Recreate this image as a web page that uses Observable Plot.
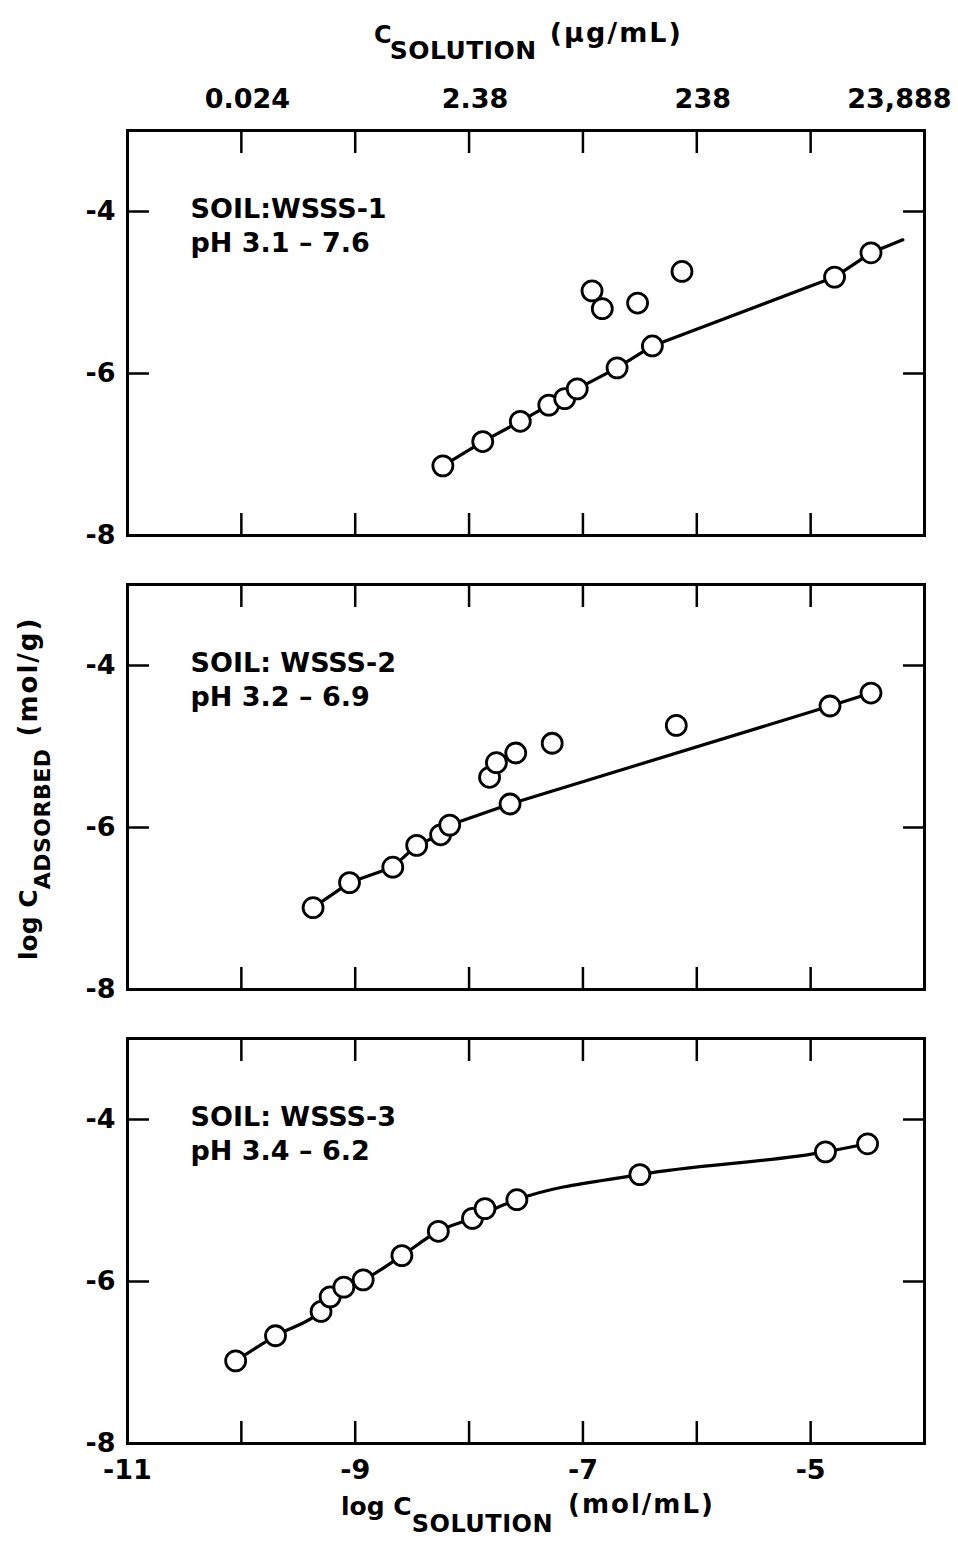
<!DOCTYPE html>
<html>
<head>
<meta charset="utf-8">
<script src="https://cdn.jsdelivr.net/npm/d3@7"></script>
<script src="https://cdn.jsdelivr.net/npm/@observablehq/plot@0.6"></script>
<style>
  html, body { margin: 0; padding: 0; background: #fff; }
  #chart svg { display: block; font-weight: bold; }
</style>
</head>
<body>
<div id="chart"></div>
<script>
// ---------- data ----------
const panels = ["WSSS-1", "WSSS-2", "WSSS-3"];
const panelLabels = [
  "SOIL:WSSS-1\npH 3.1 – 7.6",
  "SOIL: WSSS-2\npH 3.2 – 6.9",
  "SOIL: WSSS-3\npH 3.4 – 6.2"
];
const xTicks = [-10, -9, -8, -7, -6, -5];
const xTickLabels = [-11, -9, -7, -5];
const yTicks = [-6, -4];
const yTickLabels = [-8, -6, -4];
const topTickValues = [-10, -8, -6, -4];
const topTickLabels = ["0.024", "2.38", "238", "23,888"];

// Soil WSSS-1
const soil1X = [-8.23, -7.88, -7.55, -7.30, -7.16, -7.05, -6.92, -6.83, -6.70, -6.52, -6.39, -6.13, -4.79, -4.47];
const soil1Y = [-7.14, -6.84, -6.59, -6.39, -6.31, -6.19, -4.98, -5.20, -5.93, -5.13, -5.66, -4.74, -4.81, -4.51];
const fit1X = [-8.23, -7.88, -7.55, -7.30, -7.16, -7.05, -6.70, -6.39, -4.79, -4.47, -4.19];
const fit1Y = [-7.14, -6.84, -6.59, -6.39, -6.31, -6.19, -5.93, -5.66, -4.81, -4.51, -4.35];

// Soil WSSS-2
const soil2X = [-9.37, -9.05, -8.67, -8.46, -8.25, -8.17, -7.82, -7.76, -7.59, -7.64, -7.27, -6.18, -4.83, -4.47];
const soil2Y = [-6.99, -6.68, -6.49, -6.22, -6.09, -5.97, -5.38, -5.20, -5.08, -5.71, -4.96, -4.74, -4.50, -4.34];
const fit2X = [-9.37, -9.05, -8.67, -8.46, -8.25, -8.17, -7.64, -4.83, -4.47];
const fit2Y = [-6.99, -6.68, -6.49, -6.22, -6.09, -5.97, -5.71, -4.50, -4.34];

// Soil WSSS-3
const soil3X = [-10.05, -9.70, -9.30, -9.22, -9.10, -8.93, -8.59, -8.27, -7.97, -7.86, -7.58, -6.50, -4.87, -4.50];
const soil3Y = [-6.98, -6.67, -6.37, -6.19, -6.07, -5.98, -5.68, -5.38, -5.22, -5.10, -4.99, -4.68, -4.40, -4.30];
const fit3X = [-10.05, -9.70, -9.30, -9.10, -8.93, -8.59, -8.27, -7.97, -7.58, -6.50, -4.87, -4.50];
const fit3Y = [-6.98, -6.67, -6.37, -6.07, -5.98, -5.68, -5.38, -5.22, -4.99, -4.68, -4.40, -4.30];

// ---------- tables ----------
const ptsX = [soil1X, soil2X, soil3X], ptsY = [soil1Y, soil2Y, soil3Y];
const points = panels.flatMap((p, i) => ptsX[i].map((x, j) => ({panel: p, x, y: ptsY[i][j]})));
const straightFits = [[fit1X, fit1Y, panels[0]], [fit2X, fit2Y, panels[1]]]
  .flatMap(([xs, ys, p]) => xs.map((x, j) => ({panel: p, x, y: ys[j]})));
const curvedFit = fit3X.map((x, j) => ({panel: panels[2], x, y: fit3Y[j]}));
const labelRows = panels.map((p, i) => ({panel: p, text: panelLabels[i]}));
const topRows = topTickValues.map((v, i) => ({panel: panels[0], x: v, text: topTickLabels[i]}));

const FONT = "DejaVu Sans";
const fmt = d => (d < 0 ? "-" : "") + Math.abs(d);

const chart = Plot.plot({
  width: 958,
  height: 1542,
  marginLeft: 127,
  marginRight: 34,
  marginTop: 130,
  marginBottom: 99,
  style: {fontFamily: FONT, color: "black", background: "white", overflow: "visible"},
  x: {domain: [-11, -4]},
  y: {domain: [-8, -3]},
  fy: {domain: panels, paddingInner: 0.108, paddingOuter: 0, axis: null},
  marks: [
    Plot.frame({stroke: "black", strokeWidth: 3}),
    Plot.axisX(xTicks, {anchor: "bottom", tickSize: -22, fill: "none", strokeWidth: 2.5, facetAnchor: null}),
    Plot.axisX(xTicks, {anchor: "top", tickSize: -22, fill: "none", strokeWidth: 2.5, facetAnchor: null}),
    Plot.axisY(yTicks, {anchor: "left", tickSize: -22, fill: "none", strokeWidth: 2.5, facetAnchor: null}),
    Plot.axisY(yTicks, {anchor: "right", tickSize: -22, fill: "none", strokeWidth: 2.5, facetAnchor: null}),
    Plot.axisY(yTickLabels, {anchor: "left", tickSize: 0, tickPadding: 12, fontSize: 27, tickFormat: fmt, label: null, facetAnchor: null}),
    Plot.axisX(xTickLabels, {anchor: "bottom", tickSize: 0, tickPadding: 16, fontSize: 27, tickFormat: fmt, label: null}),
    Plot.text(topRows.slice(0, 3), {x: "x", fy: "panel", text: "text", frameAnchor: "top", lineAnchor: "bottom", dx: 6, dy: -23, fontSize: 27}),
    Plot.text(topRows.slice(3), {x: "x", fy: "panel", text: "text", frameAnchor: "top", lineAnchor: "bottom", textAnchor: "end", dx: 27, dy: -23, fontSize: 27}),
    Plot.line(straightFits, {x: "x", y: "y", fy: "panel", stroke: "black", strokeWidth: 3.2}),
    Plot.line(curvedFit, {x: "x", y: "y", fy: "panel", stroke: "black", strokeWidth: 3.2, curve: "monotone-x"}),
    Plot.dot(points, {x: "x", y: "y", fy: "panel", r: 10, fill: "white", stroke: "black", strokeWidth: 2.8}),
    Plot.text(labelRows, {fy: "panel", text: "text", frameAnchor: "top-left", textAnchor: "start", lineAnchor: "top", dx: 63, dy: 64, fontSize: 27, lineHeight: 1.25})
  ]
});

document.getElementById("chart").appendChild(chart);

// ---------- axis titles with subscripts ----------
const svg = d3.select(chart);
function title(parts, x, y, rotate) {
  const t = svg.append("text")
    .attr("font-family", FONT)
    .attr("font-weight", "bold")
    .attr("text-anchor", "start")
    .attr("fill", "black")
    .attr("transform", `translate(${x},${y})` + (rotate ? " rotate(-90)" : ""));
  for (const p of parts) {
    t.append("tspan")
      .attr("font-size", p.size)
      .attr("dx", p.dx || 0)
      .attr("dy", p.dy || 0)
      .attr("letter-spacing", p.ls || 0)
      .text(p.text);
  }
}
title([
  {text: "C", size: 24},
  {text: "SOLUTION", size: 25, dy: 16, dx: -2, ls: 0.5},
  {text: "(µg/mL)", size: 27, dy: -17, dx: 13, ls: 2}
], 374, 43);
title([
  {text: "log C", size: 25},
  {text: "SOLUTION", size: 24, dy: 17, ls: 0.5},
  {text: "(mol/mL)", size: 26, dy: -19, dx: 15, ls: 2}
], 341, 1515);
title([
  {text: "log C", size: 25},
  {text: "ADSORBED", size: 22, dy: 13, ls: 0.5},
  {text: "(mol/g)", size: 26, dy: -13, dx: 12, ls: 2}
], 37, 960, true);
</script>
</body>
</html>
